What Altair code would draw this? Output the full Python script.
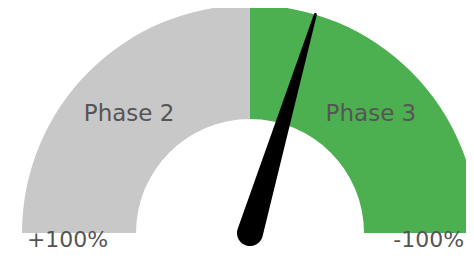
import altair as alt
import pandas as pd

# Gauge data
segments = ["Phase 2", "Phase 3"]
seg_start = [100, 0]
seg_end = [0, -100]
seg_colors = ["#c8c8c8", "#4caf50"]

end_labels = ["+100%", "-100%"]
end_values = [100, -100]

needle_value = -18.5

W, H = 458, 243
R = 228.0          # outer radius in px
CX, CY = 242.0, 225.0  # gauge centre in chart px

xs = alt.Scale(domain=[-CX / R, (W - CX) / R], nice=False, zero=False)
ys = alt.Scale(domain=[-(H - CY) / R, CY / R], nice=False, zero=False)

seg_df = pd.DataFrame({"segment": segments, "v0": seg_start, "v1": seg_end, "color": seg_colors})
end_df = pd.DataFrame({"label": end_labels, "v": end_values})
needle_df = pd.DataFrame({"v": [needle_value, needle_value], "r": [0.0, 1.0], "w": [26, 3]})

ang = "(datum.{f} / 100) * (-PI / 2)"

arcs = alt.Chart(seg_df).mark_arc(radius=R, radius2=R / 2, stroke=None).transform_calculate(
    a0=ang.format(f="v0"), a1=ang.format(f="v1")
).encode(
    x=alt.X(datum=0, scale=xs, axis=None),
    y=alt.Y(datum=0, scale=ys, axis=None),
    theta=alt.Theta("a0:Q", scale=None),
    theta2="a1:Q",
    color=alt.Color("color:N", scale=None),
)

seg_labels = alt.Chart(seg_df).mark_text(
    font="DejaVu Sans", fontSize=23, color="#555555", baseline="middle", align="center", dy=2
).transform_calculate(
    am="((datum.v0 + datum.v1) / 200) * (-PI / 2)",
    lx="0.75 * sin(datum.am)",
    ly="0.75 * cos(datum.am)",
).encode(
    x=alt.X("lx:Q", scale=xs, axis=None),
    y=alt.Y("ly:Q", scale=ys, axis=None),
    text="segment:N",
)

end_text = alt.Chart(end_df).mark_text(
    font="DejaVu Sans", fontSize=22, color="#555555", baseline="alphabetic", align="center"
).transform_calculate(
    a=ang.format(f="v"),
    lx="0.8 * sin(datum.a) - (datum.a > 0 ? 0.016 : 0)",
    ly="0.8 * cos(datum.a) - 0.061",
).encode(
    x=alt.X("lx:Q", scale=xs, axis=None),
    y=alt.Y("ly:Q", scale=ys, axis=None),
    text="label:N",
)

needle = alt.Chart(needle_df).mark_trail(color="#000000").transform_calculate(
    a=ang.format(f="v"),
    nx="datum.r * sin(datum.a)",
    ny="datum.r * cos(datum.a)",
).encode(
    x=alt.X("nx:Q", scale=xs, axis=None),
    y=alt.Y("ny:Q", scale=ys, axis=None),
    size=alt.Size("w:Q", scale=None, legend=None),
    order="r:Q",
)

chart = alt.layer(arcs, seg_labels, end_text, needle).properties(
    width=W, height=H, padding=0, autosize=alt.AutoSizeParams(type="none")
).configure_view(stroke=None)

chart.save("out.html", embed_options={"renderer": "svg", "actions": False})
